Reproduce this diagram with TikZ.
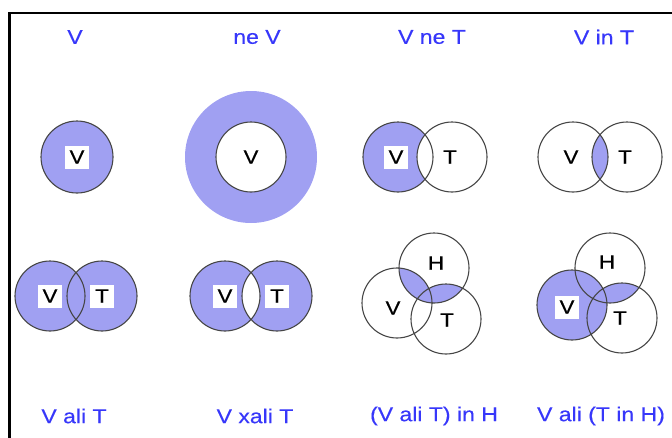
\documentclass[tikz,border=0pt]{standalone}
\usepackage{fontspec}
\usetikzlibrary{calc}
\setmainfont{Liberation Sans}[FakeStretch=1.15,FakeBold=0.4]
\definecolor{setfill}{RGB}{160,160,242}
\definecolor{ringline}{RGB}{70,70,70}
\definecolor{caption}{RGB}{55,55,250}
\begin{document}
\begin{tikzpicture}[x=1pt,y=-1pt,
  caption/.style={text=caption,font=\fontsize{20}{22}\selectfont,inner sep=0pt},
  setname/.style={text=black,font=\fontsize{19.5}{22}\selectfont,inner sep=0pt},
  boxname/.style={setname,fill=white,minimum width=24pt,minimum height=23pt},
  ring/.style={draw=ringline,line width=1.1pt},
  region/.style={fill=setfill}]
\useasboundingbox (0,0) rectangle (672,437);
% outer frame
\draw[line width=2.5pt] (9.5,440) -- (9.5,13) -- (675,13);

% captions
\node[caption] (c1) at (75,37) {V};
\node[caption] (c2) at (257,37) {ne V};
\node[caption] (c3) at (432,37) {V ne T};
\node[caption] (c4) at (604,37) {V in T};
\node[caption] (c5) at (74,416) {V ali T};
\node[caption] (c6) at (255,416) {V xali T};
\node[caption] (c7) at (434,416) {(V ali T) in H};
\node[caption] (c8) at (601,416) {V ali (T in H)};

% V
\coordinate (aV) at (77,157);
\fill[region] (aV) circle[radius=36pt];
\draw[ring] (aV) circle[radius=36pt];
\node[boxname] (la) at (aV) {V};

% ne V
\coordinate (bV) at (251,157);
\fill[region] (bV) circle[radius=66pt];
\fill[white] (bV) circle[radius=35pt];
\draw[ring] (bV) circle[radius=35pt];
\node[setname] (lb) at (bV) {V};

% V ne T
\coordinate (cV) at (398,157);
\coordinate (cT) at (452,157);
\fill[region] (cV) circle[radius=35pt];
\fill[white] (cT) circle[radius=35pt];
\draw[ring] (cV) circle[radius=35pt] (cT) circle[radius=35pt];
\node[boxname] (lcv) at ($(cV)+(-2,0)$) {V};
\node[setname] (lct) at ($(cT)+(-2,0)$) {T};

% V in T
\coordinate (dV) at (573,157);
\coordinate (dT) at (627,157);
\begin{scope}
  \clip (dV) circle[radius=35pt];
  \fill[region] (dT) circle[radius=35pt];
\end{scope}
\draw[ring] (dV) circle[radius=35pt] (dT) circle[radius=35pt];
\node[setname] (ldv) at ($(dV)+(-2,0)$) {V};
\node[setname] (ldt) at ($(dT)+(-2,0)$) {T};

% V ali T
\coordinate (eV) at (50,296);
\coordinate (eT) at (102,296);
\fill[region] (eV) circle[radius=35pt] (eT) circle[radius=35pt];
\draw[ring] (eV) circle[radius=35pt] (eT) circle[radius=35pt];
\node[boxname] (lev) at (eV) {V};
\node[boxname] (let) at (eT) {T};

% V xali T
\coordinate (fV) at (225,296);
\coordinate (fT) at (277,296);
\fill[region,even odd rule] (fV) circle[radius=35pt] (fT) circle[radius=35pt];
\draw[ring] (fV) circle[radius=35pt] (fT) circle[radius=35pt];
\node[boxname] (lfv) at (fV) {V};
\node[boxname] (lft) at (fT) {T};

% (V ali T) in H
\coordinate (gH) at (434,268);
\coordinate (gV) at (397,303);
\coordinate (gT) at (446,319);
\begin{scope}
  \clip (gH) circle[radius=35pt];
  \fill[region] (gV) circle[radius=35pt] (gT) circle[radius=35pt];
\end{scope}
\draw[ring] (gH) circle[radius=35pt] (gV) circle[radius=35pt] (gT) circle[radius=35pt];
\node[setname] (lgh) at (436,263) {H};
\node[setname] (lgv) at (393,308) {V};
\node[setname] (lgt) at (447,320) {T};

% V ali (T in H)
\coordinate (hH) at (610,268);
\coordinate (hV) at (572,305);
\coordinate (hT) at (622,318);
\fill[region] (hV) circle[radius=35pt];
\begin{scope}
  \clip (hH) circle[radius=35pt];
  \fill[region] (hT) circle[radius=35pt];
\end{scope}
\draw[ring] (hH) circle[radius=35pt] (hV) circle[radius=35pt] (hT) circle[radius=35pt];
\node[setname] (lhh) at (607,262) {H};
\node[boxname] (lhv) at (567,307) {V};
\node[setname] (lht) at (620,318) {T};
\end{tikzpicture}
\end{document}
